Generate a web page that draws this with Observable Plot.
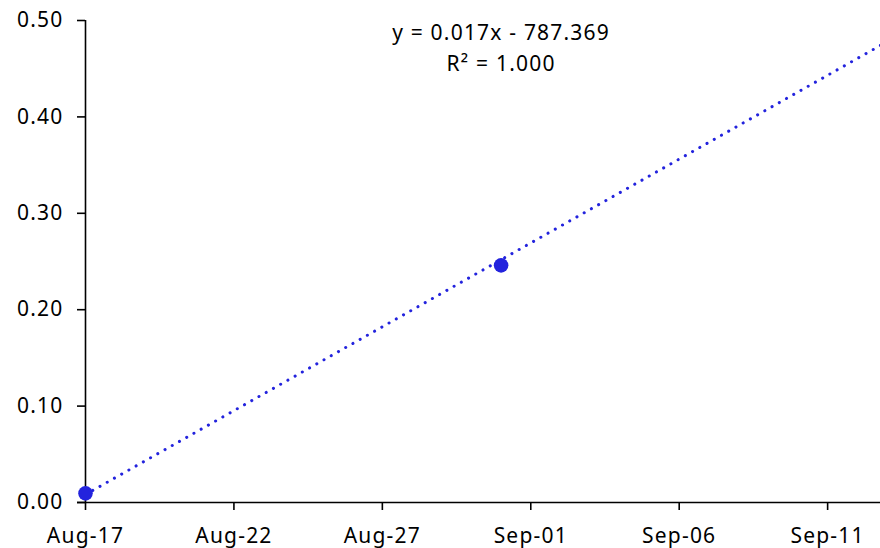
<!DOCTYPE html>
<html>
<head>
<meta charset="utf-8">
<script src="https://cdn.jsdelivr.net/npm/d3@7"></script>
<script src="https://cdn.jsdelivr.net/npm/@observablehq/plot@0.6"></script>
<style>
  html, body { margin: 0; padding: 0; background: #fff; }
  #chart svg { display: block; }
  #chart svg text { letter-spacing: 1.2px; }
</style>
</head>
<body>
<div id="chart"></div>
<script>
// ---- data ----
const dates = ["2026-08-17", "2026-08-31"];
const values = [0.0095, 0.246];
const trendDates = ["2026-08-17", "2026-09-13"];
const trendValues = [0.0083, 0.478];
const xTickDates = ["2026-08-17", "2026-08-22", "2026-08-27", "2026-09-01", "2026-09-06", "2026-09-11"];
const xTickLabels = ["Aug-17", "Aug-22", "Aug-27", "Sep-01", "Sep-06", "Sep-11"];
const yTicks = [0, 0.1, 0.2, 0.3, 0.4, 0.5];
const xDomain = ["2026-08-17T00:00Z", "2026-09-12T18:45Z"];
const equationLines = ["y = 0.017x - 787.369", "R\u00B2 = 1.000"];

const parse = s => new Date(s.length === 10 ? s + "T00:00Z" : s);
const points = dates.map((d, i) => ({date: parse(d), value: values[i]}));
const trend = trendDates.map((d, i) => ({date: parse(d), value: trendValues[i]}));
const tickDates = xTickDates.map(parse);
const labelOf = new Map(tickDates.map((d, i) => [+d, xTickLabels[i]]));

const color = "#2323dd";
const font = "Noto Sans, sans-serif";
const fs = 21;

const chart = Plot.plot({
  width: 880,
  height: 548,
  marginLeft: 85,
  marginRight: 0,
  marginTop: 20,
  marginBottom: 46,
  style: {fontFamily: font, fontSize: fs + "px", color: "#000", background: "#fff"},
  x: {type: "utc", domain: xDomain.map(parse)},
  y: {domain: [0, 0.5]},
  marks: [
    Plot.axisY({ticks: yTicks, tickFormat: d3.format(".2f"), tickSize: 8, tickPadding: 14, strokeWidth: 1.6, fontSize: fs, label: null}),
    Plot.axisX({ticks: tickDates, tickFormat: d => labelOf.get(+d), tickSize: 8, tickPadding: 18, strokeWidth: 1.6, fontSize: fs, label: null}),
    Plot.ruleY([0], {stroke: "#000", strokeWidth: 1.6, insetLeft: -8}),
    Plot.ruleX([parse(xDomain[0])], {y1: 0, y2: 0.5, stroke: "#000", strokeWidth: 1.6}),
    Plot.line(trend, {x: "date", y: "value", stroke: color, strokeWidth: 3, strokeDasharray: "0.1 8.2", strokeLinecap: "round", clip: true}),
    Plot.dot(points, {x: "date", y: "value", r: 7.3, fill: color, stroke: "none"}),
    Plot.text([equationLines.join("\n")], {x: () => points[1].date, frameAnchor: "top", lineAnchor: "top", dy: -3, fontSize: fs, lineHeight: 1.476, fill: "#000"})
  ]
});
document.getElementById("chart").appendChild(chart);
</script>
</body>
</html>
